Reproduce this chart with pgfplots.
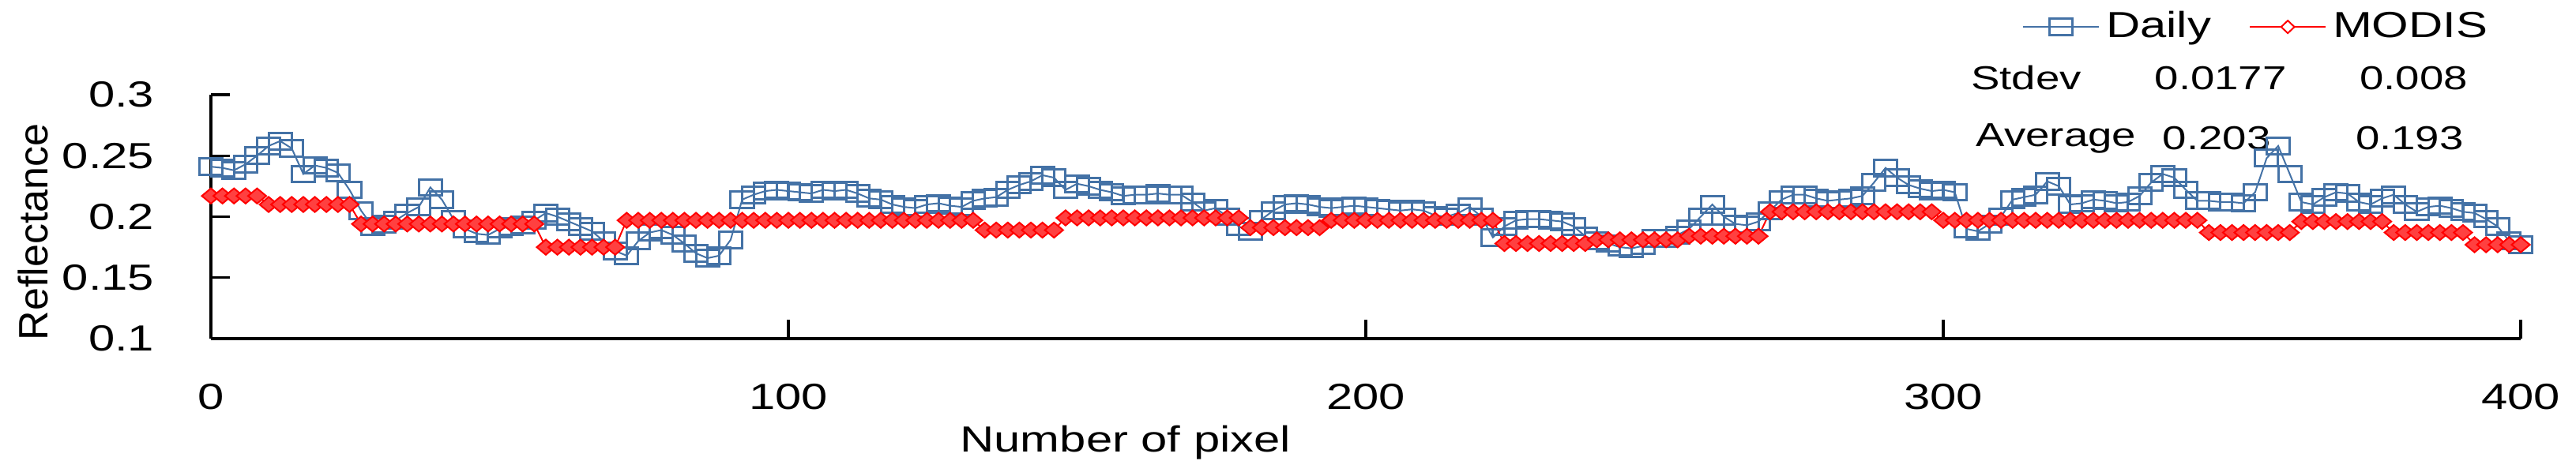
\documentclass[border=0pt]{standalone}
\usepackage{fontspec}
\setmainfont{Liberation Sans}[FakeStretch=1.3]
\newfontfamily\plainsans{Liberation Sans}
\usepackage{pgfplots}
\pgfplotsset{compat=1.18}
\definecolor{dailyblue}{RGB}{68,114,166}
\definecolor{modisred}{RGB}{255,0,0}

\begin{document}
\begin{tikzpicture}
\begin{axis}[
    name=ax,
    width=731pt, height=77.25pt, scale only axis,
    xmin=0, xmax=400, ymin=0.1, ymax=0.3,
    enlargelimits=false, clip=false,
    axis x line=bottom, axis y line=left,
    axis line style={-, line width=0.8pt},
    tick style={line width=0.8pt, black},
    tick align=inside, major tick length=6pt,
    xtick={0,100,200,300,400},
    xticklabels={0,100,200,300,400},
    ytick={0.1,0.15,0.2,0.25,0.3},
    yticklabels={0.1,0.15,0.2,0.25,0.3},
    tick label style={font=\fontsize{11.5}{13}\selectfont, inner sep=0pt},
    xticklabel style={anchor=center, yshift=-18.5pt},
    yticklabel style={anchor=east, xshift=-17.75pt},
    xlabel={Number of pixel},
    every axis x label/.style={at={(axis description cs:0.396,0)}, anchor=center, yshift=-33pt, font=\fontsize{11.5}{13}\selectfont},
    ylabel={Reflectance},
    every axis y label/.style={at={(axis description cs:0,0.437)}, anchor=center, rotate=90, yshift=56.25pt, font=\plainsans\fontsize{13}{15}\selectfont},
    legend columns=2,
    legend style={at={(axis description cs:0.784,1.278)}, anchor=west, draw=none, fill=none, inner sep=0pt,
        font=\fontsize{11.5}{13}\selectfont,
        /tikz/every even column/.append style={column sep=10pt}},
    legend image code/.code={\draw[mark repeat=2,mark phase=2] plot coordinates {(0pt,0pt) (12pt,0pt) (24pt,0pt)};},
]
\addplot[color=dailyblue, line width=0.5pt, mark=square, mark size=2.6pt,
    mark options={solid, line width=0.75pt, xscale=1.4}]
coordinates {
(0,0.241) (2,0.240) (4,0.238) (6,0.243) (8,0.250) (10,0.258) (12,0.262) (14,0.256) (16,0.235) (18,0.242)
(20,0.240) (22,0.236) (24,0.222) (26,0.205) (28,0.192) (30,0.194) (32,0.197) (34,0.203) (36,0.208) (38,0.224)
(40,0.214) (42,0.198) (44,0.190) (46,0.186) (48,0.185) (50,0.190) (52,0.192) (54,0.193) (56,0.197) (58,0.203)
(60,0.200) (62,0.196) (64,0.192) (66,0.188) (68,0.180) (70,0.172) (72,0.168) (74,0.180) (76,0.187) (78,0.189)
(80,0.185) (82,0.178) (84,0.170) (86,0.166) (88,0.168) (90,0.181) (92,0.214) (94,0.218) (96,0.221) (98,0.222)
(100,0.221) (102,0.220) (104,0.219) (106,0.222) (108,0.221) (110,0.222) (112,0.219) (114,0.215) (116,0.214) (118,0.210)
(120,0.208) (122,0.207) (124,0.210) (126,0.211) (128,0.209) (130,0.208) (132,0.213) (134,0.215) (136,0.216) (138,0.222)
(140,0.226) (142,0.229) (144,0.234) (146,0.232) (148,0.222) (150,0.227) (152,0.225) (154,0.222) (156,0.220) (158,0.217)
(160,0.218) (162,0.218) (164,0.219) (166,0.218) (168,0.218) (170,0.212) (172,0.205) (174,0.207) (176,0.200) (178,0.192)
(180,0.188) (182,0.198) (184,0.205) (186,0.210) (188,0.211) (190,0.210) (192,0.208) (194,0.207) (196,0.208) (198,0.209)
(200,0.208) (202,0.207) (204,0.206) (206,0.205) (208,0.206) (210,0.205) (212,0.201) (214,0.200) (216,0.203) (218,0.208)
(220,0.200) (222,0.183) (224,0.192) (226,0.197) (228,0.198) (230,0.198) (232,0.197) (234,0.196) (236,0.192) (238,0.184)
(240,0.180) (242,0.178) (244,0.175) (246,0.174) (248,0.176) (250,0.182) (252,0.182) (254,0.185) (256,0.190) (258,0.200)
(260,0.210) (262,0.200) (264,0.194) (266,0.193) (268,0.196) (270,0.205) (272,0.214) (274,0.218) (276,0.218) (278,0.215)
(280,0.213) (282,0.214) (284,0.215) (286,0.217) (288,0.228) (290,0.240) (292,0.232) (294,0.226) (296,0.223) (298,0.221)
(300,0.222) (302,0.220) (304,0.190) (306,0.188) (308,0.194) (310,0.200) (312,0.214) (314,0.216) (316,0.218) (318,0.229)
(320,0.225) (322,0.210) (324,0.211) (326,0.214) (328,0.213) (330,0.211) (332,0.212) (334,0.217) (336,0.228) (338,0.235)
(340,0.232) (342,0.222) (344,0.213) (346,0.213) (348,0.212) (350,0.212) (352,0.211) (354,0.220) (356,0.248) (358,0.258)
(360,0.235) (362,0.212) (364,0.210) (366,0.216) (368,0.220) (370,0.219) (372,0.212) (374,0.210) (376,0.215) (378,0.218)
(380,0.210) (382,0.204) (384,0.208) (386,0.209) (388,0.207) (390,0.204) (392,0.203) (394,0.198) (396,0.192) (398,0.180)
(400,0.177)
};
\addlegendentry{Daily}
\addplot[color=modisred, line width=0.5pt, mark=diamond*, mark size=2.4pt,
    mark options={solid, line width=0.5pt, xscale=1.6, fill=red!75},
    legend image code/.code={\draw[mark repeat=2,mark phase=2, mark size=2pt, mark options={solid, xscale=1.4, fill=white}] plot coordinates {(0pt,0pt) (12pt,0pt) (24pt,0pt)};}]
coordinates {
(0,0.217) (2,0.217) (4,0.217) (6,0.217) (8,0.217) (10,0.210) (12,0.210) (14,0.210) (16,0.210) (18,0.210)
(20,0.210) (22,0.210) (24,0.210) (26,0.194) (28,0.194) (30,0.194) (32,0.194) (34,0.194) (36,0.194) (38,0.194)
(40,0.194) (42,0.194) (44,0.194) (46,0.194) (48,0.194) (50,0.194) (52,0.194) (54,0.194) (56,0.194) (58,0.175)
(60,0.175) (62,0.175) (64,0.175) (66,0.175) (68,0.175) (70,0.175) (72,0.197) (74,0.197) (76,0.197) (78,0.197)
(80,0.197) (82,0.197) (84,0.197) (86,0.197) (88,0.197) (90,0.197) (92,0.197) (94,0.197) (96,0.197) (98,0.197)
(100,0.197) (102,0.197) (104,0.197) (106,0.197) (108,0.197) (110,0.197) (112,0.197) (114,0.197) (116,0.197) (118,0.197)
(120,0.197) (122,0.197) (124,0.197) (126,0.197) (128,0.197) (130,0.197) (132,0.197) (134,0.189) (136,0.189) (138,0.189)
(140,0.189) (142,0.189) (144,0.189) (146,0.189) (148,0.199) (150,0.199) (152,0.199) (154,0.199) (156,0.199) (158,0.199)
(160,0.199) (162,0.199) (164,0.199) (166,0.199) (168,0.199) (170,0.199) (172,0.199) (174,0.199) (176,0.199) (178,0.199)
(180,0.191) (182,0.191) (184,0.191) (186,0.191) (188,0.191) (190,0.191) (192,0.191) (194,0.197) (196,0.197) (198,0.197)
(200,0.197) (202,0.197) (204,0.197) (206,0.197) (208,0.197) (210,0.197) (212,0.197) (214,0.197) (216,0.197) (218,0.197)
(220,0.197) (222,0.197) (224,0.178) (226,0.178) (228,0.178) (230,0.178) (232,0.178) (234,0.178) (236,0.178) (238,0.178)
(240,0.181) (242,0.181) (244,0.181) (246,0.181) (248,0.181) (250,0.181) (252,0.181) (254,0.181) (256,0.184) (258,0.184)
(260,0.184) (262,0.184) (264,0.184) (266,0.184) (268,0.184) (270,0.204) (272,0.204) (274,0.204) (276,0.204) (278,0.204)
(280,0.204) (282,0.204) (284,0.204) (286,0.204) (288,0.204) (290,0.204) (292,0.204) (294,0.204) (296,0.204) (298,0.204)
(300,0.197) (302,0.197) (304,0.197) (306,0.197) (308,0.197) (310,0.197) (312,0.197) (314,0.197) (316,0.197) (318,0.197)
(320,0.197) (322,0.197) (324,0.197) (326,0.197) (328,0.197) (330,0.197) (332,0.197) (334,0.197) (336,0.197) (338,0.197)
(340,0.197) (342,0.197) (344,0.197) (346,0.187) (348,0.187) (350,0.187) (352,0.187) (354,0.187) (356,0.187) (358,0.187)
(360,0.187) (362,0.196) (364,0.196) (366,0.196) (368,0.196) (370,0.196) (372,0.196) (374,0.196) (376,0.196) (378,0.187)
(380,0.187) (382,0.187) (384,0.187) (386,0.187) (388,0.187) (390,0.187) (392,0.177) (394,0.177) (396,0.177) (398,0.177)
(400,0.177)
};
\addlegendentry{MODIS}
% summary statistics written beside the legend
\node[anchor=west, inner sep=0pt, font=\fontsize{10.5}{12}\selectfont] at (axis cs:304.7,0.3136) {Stdev};
\node[anchor=west, inner sep=0pt, font=\fontsize{10.5}{12}\selectfont] at (axis cs:336.5,0.3136) {0.0177};
\node[anchor=west, inner sep=0pt, font=\fontsize{10.5}{12}\selectfont] at (axis cs:372.0,0.3136) {0.008};
\node[anchor=west, inner sep=0pt, font=\fontsize{10.5}{12}\selectfont] at (axis cs:305.6,0.2644) {Average};
\node[anchor=west, inner sep=0pt, font=\fontsize{10.5}{12}\selectfont] at (axis cs:337.9,0.2644) {0.203};
\node[anchor=west, inner sep=0pt, font=\fontsize{10.5}{12}\selectfont] at (axis cs:371.3,0.2644) {0.193};
\end{axis}
\pgfresetboundingbox
\path ([xshift=-66.75pt,yshift=-38.75pt]ax.south west) rectangle ([xshift=17.5pt,yshift=30pt]ax.north east);
\end{tikzpicture}
\end{document}
